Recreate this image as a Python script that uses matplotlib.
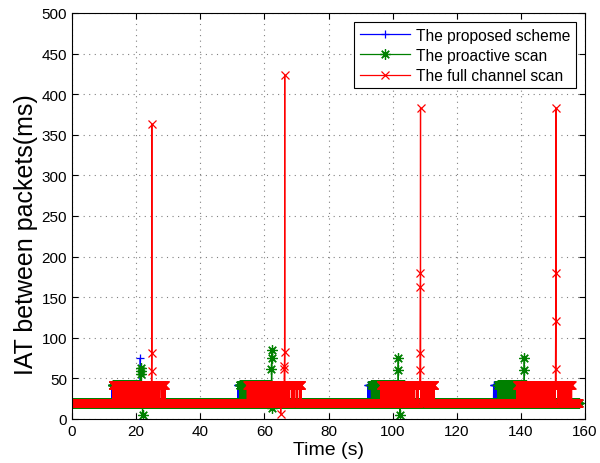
import numpy as np
import matplotlib.pyplot as plt

plt.rcParams['font.family'] = ['Liberation Sans', 'DejaVu Sans']

# packet trace layout (s / ms)
t_end = 158.0
dt = 0.05
base_iat = 20
scan_iat = 42
gap_w = 0.5

# scan bursts where IAT jumps between base and scan value
blue_blocks = [(12.5, 21.3), (51.7, 60.0), (92.3, 100.0), (131.5, 139.0)]
green_blocks = [(12.7, 21.5), (52.3, 62.2), (93.4, 103.5), (132.8, 141.5)]
red_blocks = [(12.7, 29.0), (54.7, 71.5), (96.3, 113.0), (138.8, 155.8)]

red_gaps = [15.3, 19.4, 26.2, 27.7, 68.2, 69.8, 70.7, 98.6, 103.3,
            107.2, 108.2, 110.8, 141.0, 151.3, 152.8, 154.4]

# outliers (time, consecutive IAT values)
blue_spike_t = [21.3]
blue_spike_v = [[75]]
green_spike_t = [21.5, 22.0, 62.2, 62.5, 101.7, 102.3, 141.0]
green_spike_v = [[55, 59, 63], [5], [61, 75, 85], [13], [60, 75], [5], [60, 75]]
red_spike_t = [24.8, 65.1, 66.2, 108.5, 150.8]
red_spike_v = [[59, 81, 363], [6], [61, 65, 82, 423],
               [60, 81, 162, 180, 383], [61, 120, 180, 383]]


def trace(blocks, gaps, spike_t, spike_v):
    t = np.arange(0, t_end + dt / 2, dt)
    v = np.full(t.size, float(base_iat))
    for a, b in blocks:
        idx = np.where((t >= a) & (t <= b))[0]
        v[idx[::2]] = scan_iat
    for g in gaps:
        v[np.abs(t - g) <= gap_w / 2] = scan_iat
    for ts, vals in zip(spike_t, spike_v):
        i = np.searchsorted(t, ts)
        v[i:i + len(vals)] = vals
    return t, v


fig = plt.figure(figsize=(6, 4.64), dpi=100)
ax = fig.add_axes([0.12, 0.095, 0.855, 0.875])

tb, vb = trace(blue_blocks, [], blue_spike_t, blue_spike_v)
tg, vg = trace(green_blocks, [], green_spike_t, green_spike_v)
tr, vr = trace(red_blocks, red_gaps, red_spike_t, red_spike_v)

ax.plot(tb, vb, '-+', color=(0, 0, 1), lw=0.9, ms=6, mew=0.9, label='The proposed scheme')
ax.plot(tg, vg, '-', marker=(8, 2, 0), color=(0, 0.5, 0), lw=0.9, ms=7.5, mew=0.9,
        label='The proactive scan')
ax.plot(tr, vr, '-x', color=(1, 0, 0), lw=0.9, ms=6, mew=0.9, label='The full channel scan')

ax.set_xlim(0, 160)
ax.set_ylim(0, 500)
ax.set_xticks(np.arange(0, 161, 20))
ax.set_yticks(np.arange(0, 501, 50))
ax.grid(True, ls=(0, (1, 4)), color='0.5', lw=0.8)
ax.tick_params(direction='in', top=True, right=True, labelsize=11, length=4)
ax.set_xlabel('Time (s)', fontsize=14, labelpad=2)
ax.set_ylabel('IAT between packets(ms)', fontsize=18)
ax.yaxis.set_label_coords(-0.066, 0.456)

leg = ax.legend(loc='upper right', fontsize=11.2, fancybox=False, edgecolor='black',
                handlelength=3.2, handletextpad=0.4, labelspacing=0.33,
                borderaxespad=0.6, borderpad=0.35, framealpha=1)
leg.get_frame().set_linewidth(0.8)

fig.savefig('out.png', dpi=100)
